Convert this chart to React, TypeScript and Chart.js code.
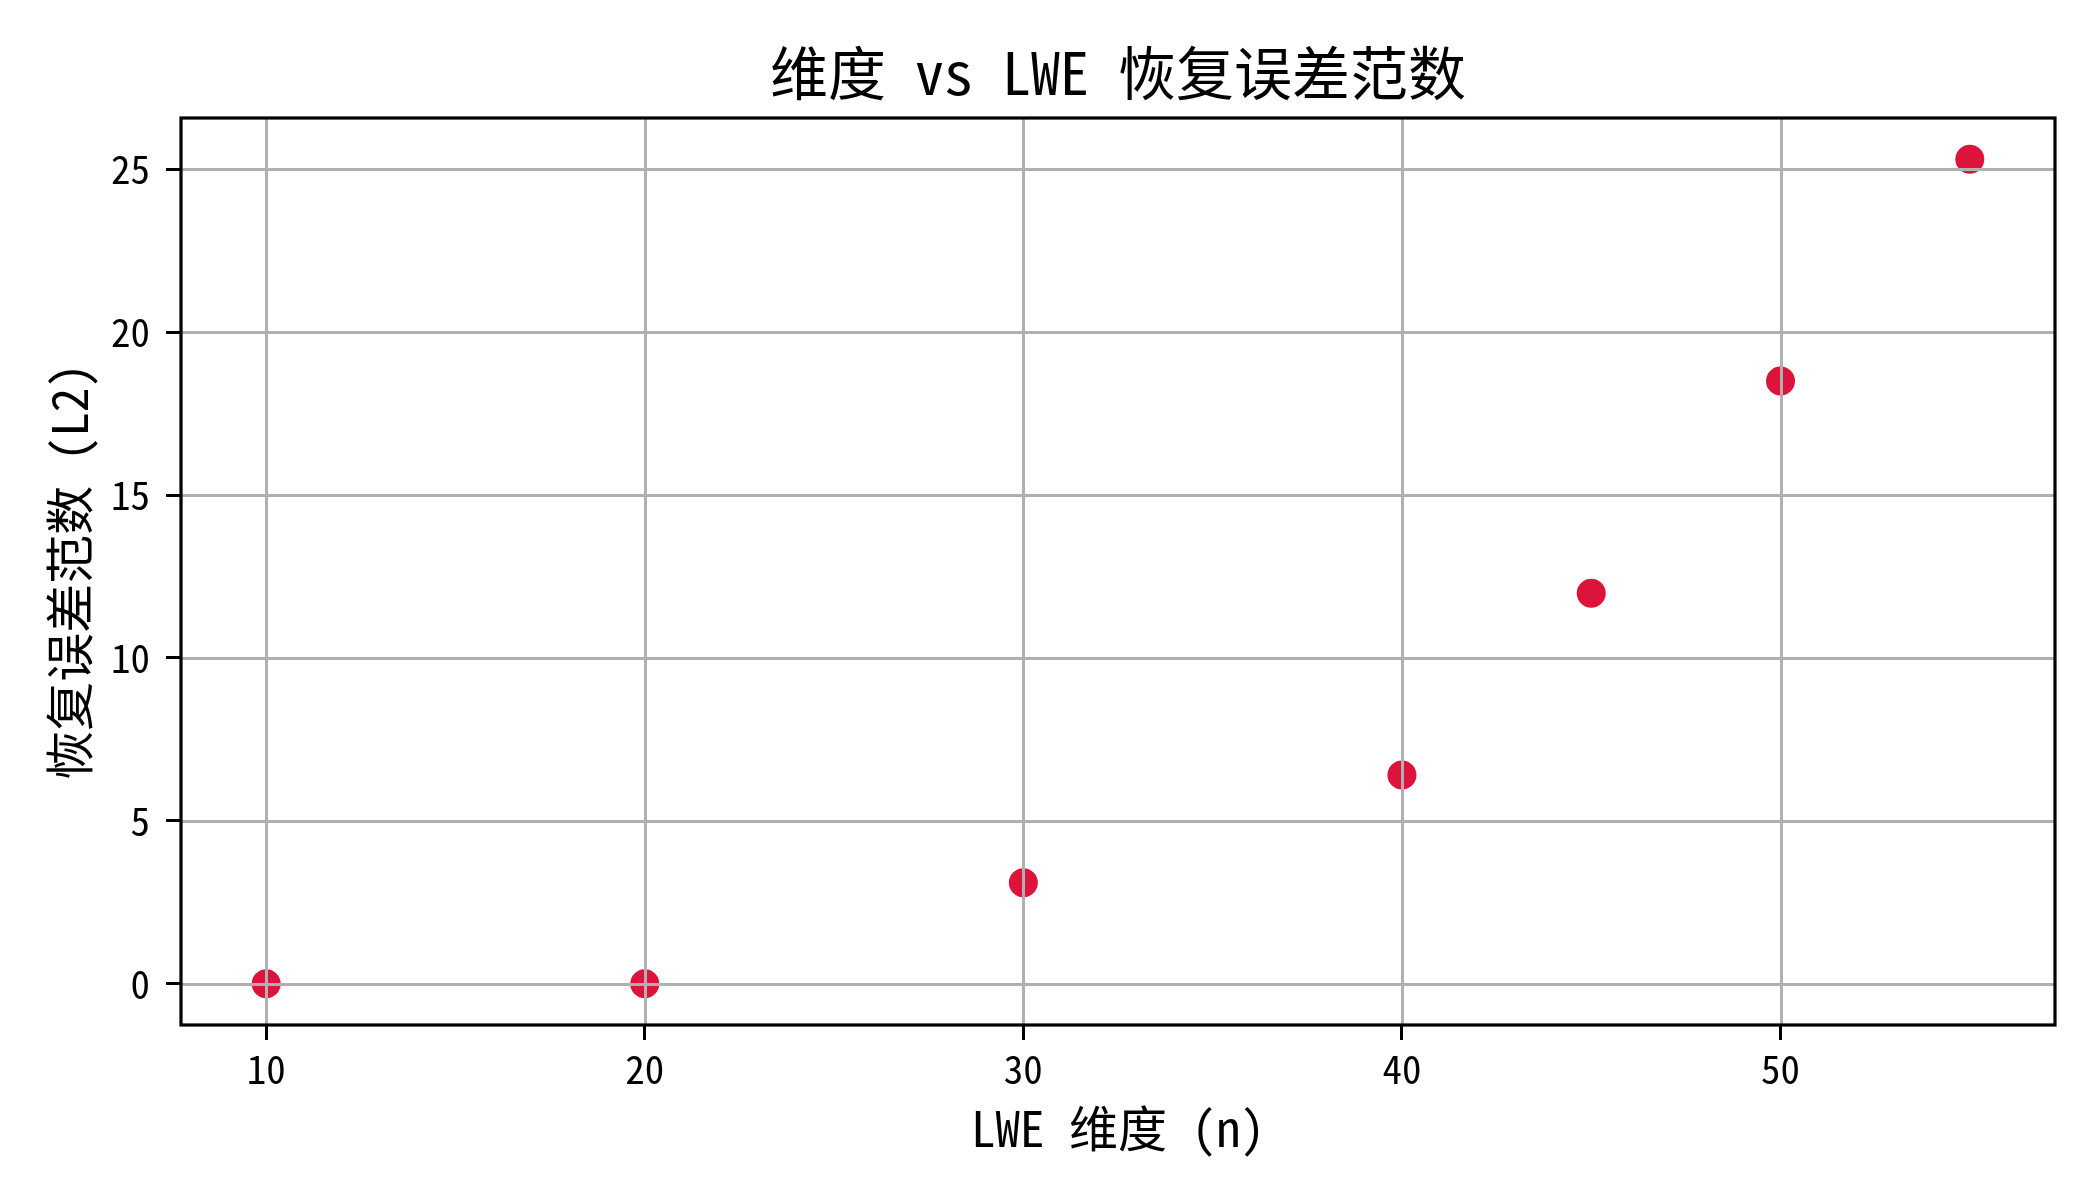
import React, { useEffect, useRef } from "react";
import { Chart, registerables } from "chart.js";

Chart.register(...registerables);

const dimensions = [10, 20, 30, 40, 45, 50, 55];
const errorNorms = [0, 0, 3.1, 6.41, 11.99, 18.5, 25.31];
const xTicks = [10, 20, 30, 40, 50];
const yTicks = [0, 5, 10, 15, 20, 25];

const titleText = "维度 vs LWE 恢复误差范数";
const xTitle = "LWE 维度 (n)";
const yTitle = "恢复误差范数 (L2)";

const FONT = "'Noto Sans Mono CJK SC', 'Noto Sans CJK SC', 'DejaVu Sans Mono', monospace";

const overlayPlugin = {
  id: "overlay",
  afterDatasetsDraw(chart: any) {
    const { ctx, chartArea, scales } = chart;
    const { left, right, top, bottom } = chartArea;
    ctx.save();
    ctx.strokeStyle = "#b0b0b0";
    ctx.lineWidth = 3;
    ctx.beginPath();
    for (const v of xTicks) {
      const px = Math.round(scales.x.getPixelForValue(v)) + 0.5;
      ctx.moveTo(px, top);
      ctx.lineTo(px, bottom);
    }
    for (const v of yTicks) {
      const py = Math.round(scales.y.getPixelForValue(v)) + 0.5;
      ctx.moveTo(left, py);
      ctx.lineTo(right, py);
    }
    ctx.stroke();
    ctx.strokeStyle = "#000";
    ctx.lineWidth = 3.2;
    ctx.strokeRect(left, top, right - left, bottom - top);
    ctx.restore();
  },
  afterDraw(chart: any) {
    const { ctx, chartArea } = chart;
    ctx.save();
    ctx.fillStyle = "#000";
    ctx.font = `58px ${FONT}`;
    ctx.textAlign = "center";
    ctx.textBaseline = "middle";
    ctx.fillText(titleText, (chartArea.left + chartArea.right) / 2, 73);
    ctx.restore();
  },
};

export default function App() {
  const ref = useRef<HTMLCanvasElement>(null);
  useEffect(() => {
    document.body.style.margin = "0";
    const canvas = ref.current!;
    const chart = new Chart(canvas, {
      type: "scatter",
      data: {
        datasets: [
          {
            label: "误差",
            data: dimensions.map((d, i) => ({ x: d, y: errorNorms[i] })),
            backgroundColor: "#DC143C",
            borderWidth: 0,
            pointRadius: 14.5,
            pointHoverRadius: 14.5,
          },
        ],
      },
      options: {
        responsive: false,
        animation: false,
        devicePixelRatio: 1,
        layout: { padding: { left: 0, right: 45, top: 118, bottom: 0 } },
        plugins: {
          legend: { display: false },
          tooltip: { enabled: false },
          title: { display: false },
        },
        scales: {
          x: {
            type: "linear",
            min: 7.75,
            max: 57.25,
            afterBuildTicks: (s: any) => {
              s.ticks = xTicks.map((v) => ({ value: v }));
            },
            afterFit: (s: any) => {
              s.height = 175;
            },
            grid: {
              color: "#b0b0b0",
              lineWidth: 3,
              drawOnChartArea: false,
              tickLength: 15,
              tickColor: "#000",
              tickWidth: 3,
            },
            border: { display: false },
            ticks: {
              color: "#000",
              font: { family: FONT, size: 39 },
              padding: 6,
              maxRotation: 0,
            },
            title: {
              display: true,
              text: xTitle,
              color: "#000",
              font: { family: FONT, size: 49 },
              padding: { top: 0, bottom: 42 },
            },
          },
          y: {
            type: "linear",
            min: -1.265,
            max: 26.575,
            afterBuildTicks: (s: any) => {
              s.ticks = yTicks.map((v) => ({ value: v }));
            },
            afterFit: (s: any) => {
              s.width = 181;
            },
            grid: {
              color: "#b0b0b0",
              lineWidth: 3,
              drawOnChartArea: false,
              tickLength: 15,
              tickColor: "#000",
              tickWidth: 3,
            },
            border: { display: false },
            ticks: {
              color: "#000",
              font: { family: FONT, size: 39 },
              padding: 16,
            },
            title: {
              display: true,
              text: yTitle,
              color: "#000",
              font: { family: FONT, size: 49 },
              padding: { top: 40, bottom: 0 },
            },
          },
        },
      },
      plugins: [overlayPlugin],
    });
    return () => chart.destroy();
  }, []);
  return (
    <div style={{ position: "absolute", left: 0, top: 0, width: 2100, height: 1200, background: "#fff" }}>
      <canvas ref={ref} width={2100} height={1200} style={{ width: 2100, height: 1200 }} />
    </div>
  );
}
